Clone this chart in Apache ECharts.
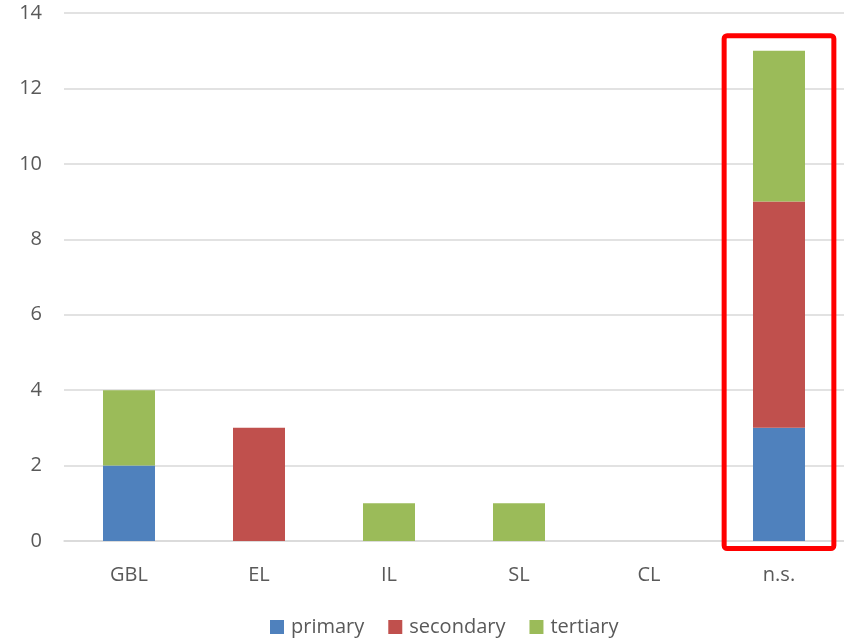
<!DOCTYPE html>
<html>
<head>
<meta charset="utf-8">
<script src="https://cdn.jsdelivr.net/npm/echarts@6/dist/echarts.min.js"></script>
<style>
  html, body { margin: 0; padding: 0; background: #fff; }
  #canvas { width: 844px; height: 639px; }
</style>
</head>
<body>
<div id="canvas"></div>
<script>
var categories = ['GBL', 'EL', 'IL', 'SL', 'CL', 'n.s.'];
var primary = [2, 0, 0, 0, 0, 3];
var secondary = [0, 3, 0, 0, 0, 6];
var tertiary = [2, 0, 1, 1, 0, 4];
var yTicks = [0, 14, 2];

var myChart = echarts.init(document.getElementById('canvas'));
var textColor = '#595959';
var font = '"Open Sans", "DejaVu Sans", sans-serif';

var barSeries = function(name, data, color) {
    return {
        name: name,
        type: 'bar',
        stack: 'total',
        barWidth: '40%',
        data: data,
        itemStyle: {color: color},
        emphasis: {disabled: true}
    };
};

var option = {
    animation: false,
    textStyle: {fontFamily: font},
    grid: {left: 64, right: -1, top: 13, bottom: 98, containLabel: false},
    legend: {
        top: 612,
        left: 265,
        itemWidth: 14,
        itemHeight: 14,
        itemGap: 24,
        icon: 'rect',
        textStyle: {color: textColor, fontSize: 20, fontFamily: font, padding: [0, 0, 0, 2]},
        data: ['primary', 'secondary', 'tertiary']
    },
    xAxis: {
        type: 'category',
        data: categories,
        axisLine: {lineStyle: {color: '#d9d9d9', width: 1.5}},
        axisTick: {show: false},
        axisLabel: {color: textColor, fontSize: 20, margin: 24}
    },
    yAxis: {
        type: 'value',
        min: yTicks[0],
        max: yTicks[1],
        interval: yTicks[2],
        axisLine: {show: false},
        axisTick: {show: false},
        axisLabel: {color: textColor, fontSize: 20, margin: 22},
        splitLine: {lineStyle: {color: '#d9d9d9', width: 1.5}}
    },
    series: [
        barSeries('primary', primary, '#4F81BD'),
        barSeries('secondary', secondary, '#C0504D'),
        barSeries('tertiary', tertiary, '#9BBB59')
    ]
};
myChart.setOption(option);

// red highlight box around the last category
var last = categories.length - 1;
var c = myChart.convertToPixel({gridIndex: 0}, [last, 0]);
var band = myChart.convertToPixel({gridIndex: 0}, [1, 0])[0] - myChart.convertToPixel({gridIndex: 0}, [0, 0])[0];
var topY = myChart.convertToPixel({gridIndex: 0}, [last, 13.4])[1];
var halfW = band * 0.422;
myChart.setOption({
    graphic: [{
        type: 'rect',
        shape: {x: c[0] - halfW, y: topY, width: halfW * 2, height: c[1] + 7.5 - topY, r: 3},
        style: {fill: 'none', stroke: '#ff0000', lineWidth: 5},
        z: 100
    }]
});
</script>
</body>
</html>
